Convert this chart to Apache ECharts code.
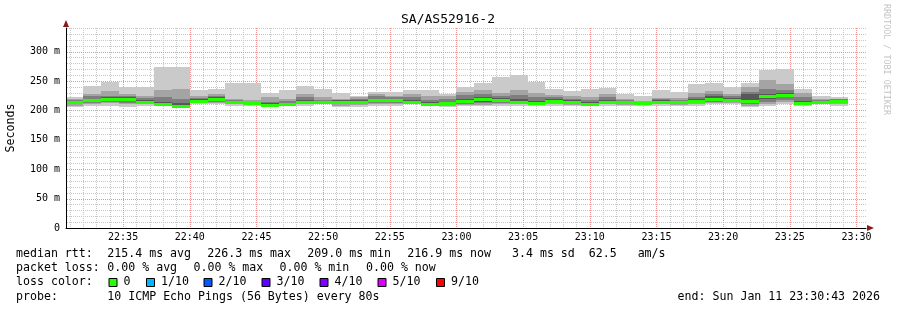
<!DOCTYPE html>
<html><head><meta charset="utf-8">
<script src="https://cdn.jsdelivr.net/npm/echarts@6/dist/echarts.min.js"></script>
<style>html,body{margin:0;padding:0;background:#fff}#c{width:897px;height:310px}</style>
</head><body><div id="c"></div>
<script>
// ---- data ----
const binStart = ['22:30:40','22:32:00','22:33:20','22:34:40','22:36:00','22:37:20','22:38:40','22:40:00','22:41:20','22:42:40','22:44:00','22:45:20','22:46:40','22:48:00','22:49:20','22:50:40','22:52:00','22:53:20','22:54:40','22:56:00','22:57:20','22:58:40','23:00:00','23:01:20','23:02:40','23:04:00','23:05:20','23:06:40','23:08:00','23:09:20','23:10:40','23:12:00','23:13:20','23:14:40','23:16:00','23:17:20','23:18:40','23:20:00','23:21:20','23:22:40','23:24:00','23:25:20','23:26:40','23:28:00'];
const binSeconds = 80;
const median = [214,217,219,219,215,211,208,216,219,214,212,209,210,214,214,215,215,217,217,215,211,212,216,219,217,214,212,216,214,211,214,214,212,215,214,216,220,218,216,224,226,213,214,216];
const ping1  = [206,208,207,206,208,208,206,210,210,208,208,207,207,208,210,205,206,208,208,210,207,205,207,207,208,208,207,207,207,207,208,207,208,208,207,208,211,210,206,207,210,207,210,207];
const ping2  = [208,211,212,210,210,209,207,212,212,210,209,208,208,210,211,208,209,211,211,211,208,208,209,209,211,210,209,210,209,208,210,209,209,210,209,210,213,212,208,211,214,209,211,210];
const ping3  = [210,213,214,213,212,210,207,213,214,211,210,208,209,211,212,211,211,213,213,212,209,209,211,212,213,211,210,212,211,209,211,211,210,212,211,212,215,214,210,215,218,211,212,212];
const ping4  = [212,215,216,216,214,211,208,215,217,213,211,209,209,213,213,213,213,215,215,214,210,211,213,215,215,212,211,214,213,210,213,213,211,214,213,214,218,216,212,219,222,212,213,214];
const ping5  = [213,216,218,218,215,211,208,216,218,214,212,209,210,214,214,214,214,216,216,215,211,212,215,218,216,213,212,215,214,211,214,214,212,215,214,216,219,217,215,223,225,213,214,215];
const ping6  = [215,218,220,220,216,212,209,217,220,215,213,210,211,215,215,216,216,218,218,216,212,213,217,220,218,215,213,217,215,212,215,215,213,216,215,217,221,219,218,225,227,214,215,217];
const ping7  = [216,220,222,222,218,214,212,219,222,216,214,212,213,217,216,217,217,220,220,218,214,215,220,223,221,219,216,219,217,214,218,216,214,217,216,219,224,221,228,228,230,216,216,218];
const ping8  = [218,224,225,224,221,222,220,221,225,217,215,215,216,222,218,218,220,224,222,222,218,220,226,228,225,226,222,222,220,218,223,217,215,219,218,223,228,224,232,236,234,222,218,219];
const ping9  = [220,228,233,228,224,234,237,224,228,220,217,222,219,227,223,219,222,227,224,228,224,225,232,234,229,234,230,226,224,222,227,219,216,221,221,229,233,228,240,251,245,230,220,220];
const ping10 = [223,242,249,239,239,273,273,234,236,246,246,230,234,241,237,229,224,231,231,234,235,228,240,246,257,260,249,236,233,236,238,228,224,234,231,244,246,239,246,268,270,236,224,222];
const xTickLabels = ['22:35','22:40','22:45','22:50','22:55','23:00','23:05','23:10','23:15','23:20','23:25','23:30'];
const yTickLabels = ['0','50 m','100 m','150 m','200 m','250 m','300 m'];
const yTickValues = [0,50,100,150,200,250,300];
const graphStart = '22:30:43', graphEnd = '23:30:43';
const lossLabels = ['0','1/10','2/10','3/10','4/10','5/10','9/10'];
const lossColors = ['#26ff00','#00b8ff','#0059ff','#5e00ff','#7e00ff','#dd00ff','#ff0000'];
const statsRow = ['median rtt:','215.4 ms avg','226.3 ms max','209.0 ms min','216.9 ms now','3.4 ms sd  62.5   am/s'];
const lossRow = ['packet loss:','0.00 % avg','0.00 % max','0.00 % min','0.00 % now'];
const probeText = '10 ICMP Echo Pings (56 Bytes) every 80s';
const endText = 'end: Sun Jan 11 23:30:43 2026';
const title = 'SA/AS52916-2';

// ---- helpers ----
const BASE = 22*60+30;
function toMin(s){const p=s.split(':').map(Number);return p[0]*60+p[1]+(p[2]||0)/60-BASE;}
const xMin = toMin(graphStart), xMax = toMin(graphEnd);
const yMax = 340;
const pings=[ping1,ping2,ping3,ping4,ping5,ping6,ping7,ping8,ping9,ping10];
const rows = binStart.map((s,i)=>{const t=toMin(s);return [t,t+binSeconds/60].concat(pings.map(p=>p[i])).concat([median[i]]);});
const smokeColors=['#cacaca','#a4a4a4','#7e7e7e','#585858','#323232'];
const mono='DejaVu Sans Mono';
const minorGray='#c8c8c8', majorRed='#f09090';

function renderItem(params, api){
  const cs=params.coordSys; const box={x:cs.x,y:cs.y,width:cs.width,height:cs.height};
  const t0=api.value(0), t1=api.value(1);
  const kids=[];
  for(let b=0;b<5;b++){
    const lo=api.value(2+b), hi=api.value(11-b);
    const a=api.coord([t0,lo]), c=api.coord([t1,hi]);
    const x0=Math.round(a[0]), x1=Math.round(c[0]);
    const y0=Math.round(c[1]), y1=Math.round(a[1]);
    const r=echarts.graphic.clipRectByRect({x:x0,y:y0,width:x1-x0,height:Math.max(1,y1-y0)},box);
    if(r) kids.push({type:'rect',shape:r,style:{fill:smokeColors[b]}});
  }
  const m0=api.coord([t0,api.value(12)]), m1=api.coord([t1,api.value(12)]);
  const my=Math.round(m0[1]);
  const r=echarts.graphic.clipRectByRect({x:Math.round(m0[0]),y:my-1,width:Math.round(m1[0])-Math.round(m0[0]),height:3},box);
  if(r) kids.push({type:'rect',shape:r,style:{fill:lossColors[0]}});
  return {type:'group',children:kids};
}

// grid line definitions: [x, y, kind(0=vertical,1=horizontal)]
const minorRows=[], majorRows=[];
for(let m=Math.ceil(xMin); m<=Math.floor(xMax); m++) (m%5===0?majorRows:minorRows).push([m,0,0]);
for(let v=10; v<=yMax; v+=10) (v%50===0?majorRows:minorRows).push([xMin,v,1]);
function gridRenderer(color){
  return function(params, api){
    const cs=params.coordSys;
    const p=api.coord([api.value(0),api.value(1)]);
    let shape;
    if(api.value(2)===0){const x=Math.round(p[0])+0.5;shape={x1:x,y1:cs.y,x2:x,y2:cs.y+cs.height};}
    else{const y=Math.round(p[1])+0.5;shape={x1:cs.x+1,y1:y,x2:cs.x+cs.width,y2:y};}
    return {type:'line',shape:shape,style:{stroke:color,fill:null,lineWidth:1,lineDash:[1,1]}};
  };
}
const xLabelVals = xTickLabels.map(toMin);

const graphics=[];
function T(x,y,s,extra){graphics.push(Object.assign({type:'text',x:x,y:y,silent:true,style:Object.assign({text:s,font:'11.6px "'+mono+'"',fill:'#000',textAlign:'left',textVerticalAlign:'middle'},extra||{})}));}
T(448,19.5,title,{font:'13px "'+mono+'"',textAlign:'center'});
graphics.push({type:'text',x:886,y:4,rotation:-Math.PI/2,silent:true,style:{text:'RRDTOOL / TOBI OETIKER',font:'8.4px "'+mono+'"',fill:'#c4c4c4',textAlign:'left',textVerticalAlign:'middle'}});
const statsX=[16,107.3,207.3,307.3,407.3,512];
statsRow.forEach((s,i)=>T(statsX[i],254,s));
const lossX=[16,107.3,193.5,279.5,366];
lossRow.forEach((s,i)=>T(lossX[i],268,s));
T(16,282,'loss color:');
const sqX=[108.5,146,203.5,261.5,319.5,377.5,436];
lossLabels.forEach((s,i)=>{
  graphics.push({type:'rect',silent:true,shape:{x:sqX[i]+0.5,y:278.5,width:8,height:8},style:{fill:lossColors[i],stroke:'#000',lineWidth:1}});
  T(sqX[i]+15,282,s);
});
T(16,296.5,'probe:');
T(107.3,296.5,probeText);
T(880,296.5,endText,{textAlign:'right'});
graphics.push({type:'polygon',silent:true,shape:{points:[[63,27],[69,27],[66,20]]},style:{fill:'#8b1a1a'}});
graphics.push({type:'polygon',silent:true,shape:{points:[[867,225],[867,231],[874,228]]},style:{fill:'#8b1a1a'}});

const chart=echarts.init(document.getElementById('c'),null,{renderer:'canvas'});
chart.setOption({
  backgroundColor:'#ffffff',
  animation:false,
  grid:{left:66,right:31,top:28,bottom:82,containLabel:false,outerBoundsMode:'none'},
  xAxis:{type:'value',min:xMin,max:xMax,z:10,
    axisLine:{show:true,lineStyle:{color:'#000',width:1}},
    axisTick:{show:false},splitLine:{show:false},
    axisLabel:{customValues:xLabelVals,formatter:(v)=>xTickLabels[xLabelVals.findIndex(z=>Math.abs(z-v)<1e-6)]||'',fontFamily:mono,fontSize:10,color:'#000',margin:4}},
  yAxis:{type:'value',min:0,max:yMax,interval:10,z:10,
    name:'Seconds',nameLocation:'middle',nameRotate:90,nameGap:49,nameTextStyle:{fontFamily:mono,fontSize:11.6,color:'#000'},
    axisLine:{show:true,lineStyle:{color:'#000',width:1}},
    axisTick:{show:false},
    splitLine:{show:false},
    axisLabel:{customValues:yTickValues,formatter:(v)=>yTickLabels[yTickValues.indexOf(v)]||'',fontFamily:mono,fontSize:10,color:'#000',margin:6}},
  series:[
    {type:'custom',renderItem:gridRenderer(minorGray),data:minorRows,encode:{x:0,y:1},z:1,silent:true},
    {type:'custom',renderItem:gridRenderer(majorRed),data:majorRows,encode:{x:0,y:1},z:2,silent:true},
    {type:'custom',renderItem:renderItem,data:rows,encode:{x:[0,1],y:[2,11]},z:5,silent:true}
  ],
  graphic:graphics
});
</script></body></html>
